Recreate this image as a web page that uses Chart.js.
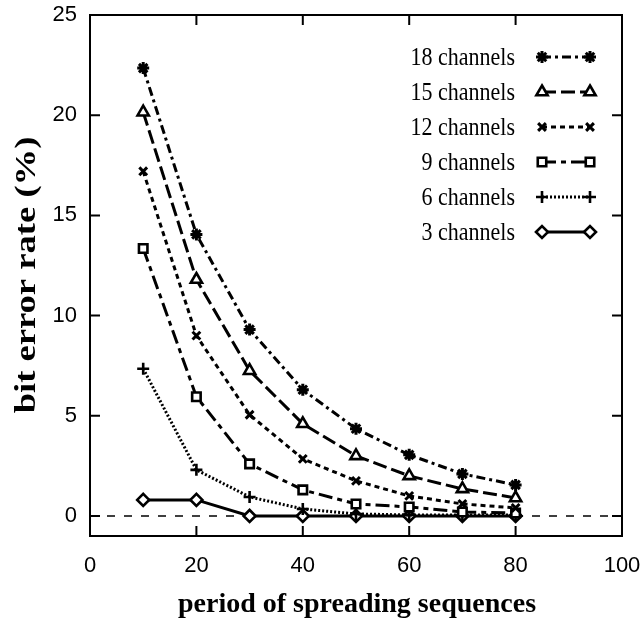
<!DOCTYPE html>
<html>
<head>
<meta charset="utf-8">
<script src="https://cdn.jsdelivr.net/npm/chart.js@4.4.1/dist/chart.umd.min.js"></script>
<style>
html,body{margin:0;padding:0;background:#fff;}
#c{display:block;}
</style>
</head>
<body>
<canvas id="c" width="640" height="619"></canvas>
<script>
// ---- data ----
const periods = [10, 20, 30, 40, 50, 60, 70, 80];
const ch18 = [22.35, 14.05, 9.3, 6.3, 4.35, 3.05, 2.1, 1.55];
const ch15 = [20.15, 11.8, 7.25, 4.6, 3.0, 2.0, 1.35, 0.9];
const ch12 = [17.2, 9.0, 5.05, 2.85, 1.75, 1.0, 0.6, 0.4];
const ch9  = [13.35, 5.95, 2.6, 1.3, 0.6, 0.45, 0.2, 0.15];
const ch6  = [7.35, 2.3, 0.95, 0.35, 0.1, 0.05, 0.05, 0.05];
const ch3  = [0.8, 0.8, 0, 0, 0, 0, 0, 0];
const seriesLabels = ['18 channels', '15 channels', '12 channels', '9 channels', '6 channels', '3 channels'];
const xTicks = [0, 20, 40, 60, 80, 100];
const yTicks = [0, 5, 10, 15, 20, 25];
const xTitle = 'period of spreading sequences';
const yTitle = 'bit error rate (%)';

const styles = [
  {dash: [9, 4, 3, 4], point: 'star', r: 6, bw: 3, fill: '#000'},
  {dash: [14, 5], point: 'triangle', r: 6.5, bw: 2.6, fill: '#fff'},
  {dash: [5, 4], point: 'crossRot', r: 5.5, bw: 3, fill: '#000'},
  {dash: [14, 5, 5, 5], point: 'rect', r: 6, bw: 2.6, fill: '#fff'},
  {dash: [2, 2], point: 'cross', r: 6, bw: 2.6, fill: '#000'},
  {dash: [], point: 'rectRot', r: 6, bw: 2.6, fill: '#fff'}
];
const values = [ch18, ch15, ch12, ch9, ch6, ch3];

const datasets = values.map((v, i) => ({
  label: seriesLabels[i],
  data: periods.map((p, j) => ({x: p, y: v[j]})),
  borderColor: '#000',
  backgroundColor: styles[i].fill,
  borderWidth: 3,
  borderDash: styles[i].dash,
  pointStyle: styles[i].point,
  pointRadius: styles[i].r,
  pointBorderWidth: styles[i].bw,
  pointBorderColor: '#000',
  pointBackgroundColor: styles[i].fill,
  tension: 0,
  fill: false
}));

const framePlugin = {
  id: 'frame',
  beforeDatasetsDraw(chart) {
    const {ctx, chartArea: a, scales: {y}} = chart;
    const y0 = y.getPixelForValue(0);
    ctx.save();
    ctx.strokeStyle = '#000';
    ctx.lineWidth = 1.6;
    ctx.setLineDash([8, 9]);
    ctx.beginPath();
    ctx.moveTo(a.left, y0);
    ctx.lineTo(a.right, y0);
    ctx.stroke();
    ctx.restore();
  },
  afterDatasetsDraw(chart) {
    const {ctx, chartArea: a, scales: {x, y}} = chart;
    ctx.save();
    ctx.strokeStyle = '#000';
    ctx.lineWidth = 2;
    ctx.setLineDash([]);
    ctx.strokeRect(a.left, a.top, a.right - a.left, a.bottom - a.top);
    const tl = 10;
    ctx.beginPath();
    xTicks.forEach(v => {
      const px = x.getPixelForValue(v);
      ctx.moveTo(px, a.bottom); ctx.lineTo(px, a.bottom - tl);
      ctx.moveTo(px, a.top); ctx.lineTo(px, a.top + tl);
    });
    yTicks.forEach(v => {
      const py = y.getPixelForValue(v);
      ctx.moveTo(a.left, py); ctx.lineTo(a.left + tl, py);
      ctx.moveTo(a.right, py); ctx.lineTo(a.right - tl, py);
    });
    ctx.stroke();
    ctx.restore();
  },
  afterDraw(chart) {
    const {ctx, chartArea: a} = chart;
    ctx.save();
    ctx.fillStyle = '#000';
    // x title
    ctx.font = 'bold 28px "Liberation Serif", "DejaVu Serif", serif';
    ctx.textAlign = 'center';
    ctx.textBaseline = 'middle';
    ctx.fillText(xTitle, 357, 605);
    // y title
    ctx.save();
    ctx.translate(27, 275);
    ctx.rotate(-Math.PI / 2);
    ctx.scale(1.22, 1);
    ctx.font = 'bold 30px "Liberation Serif", "DejaVu Serif", serif';
    ctx.fillText(yTitle, 0, 0);
    ctx.restore();
    // legend
    const rows = [57, 92, 127, 162, 197, 232];
    ctx.font = '22px "Liberation Serif", "DejaVu Serif", serif';
    ctx.textAlign = 'right';
    ctx.textBaseline = 'middle';
    seriesLabels.forEach((lab, i) => {
      const ry = rows[i];
      ctx.fillStyle = '#000';
      ctx.save();
      ctx.translate(515, ry + 1);
      ctx.scale(1, 1.15);
      ctx.fillText(lab, 0, 0);
      ctx.restore();
      ctx.save();
      ctx.strokeStyle = '#000';
      ctx.lineWidth = 3;
      ctx.setLineDash(styles[i].dash);
      ctx.beginPath();
      ctx.moveTo(542, ry);
      ctx.lineTo(590, ry);
      ctx.stroke();
      ctx.setLineDash([]);
      ctx.lineWidth = styles[i].bw;
      ctx.fillStyle = styles[i].fill;
      [542, 590].forEach(px => {
        Chart.helpers.drawPoint(ctx, {pointStyle: styles[i].point, radius: styles[i].r, rotation: 0, borderWidth: styles[i].bw}, px, ry);
      });
      ctx.restore();
    });
    ctx.restore();
  }
};

new Chart(document.getElementById('c'), {
  type: 'line',
  data: {datasets},
  options: {
    responsive: false,
    devicePixelRatio: 1,
    animation: false,
    layout: {padding: {top: 15, right: 18, left: 0, bottom: 0}},
    plugins: {legend: {display: false}, tooltip: {enabled: false}},
    scales: {
      x: {
        type: 'linear', min: 0, max: 100,
        grid: {display: false, drawTicks: false},
        border: {display: false},
        afterBuildTicks: s => { s.ticks = xTicks.map(v => ({value: v})); },
        afterFit: s => { s.height = 83; s.paddingLeft = 0; s.paddingRight = 0; },
        ticks: {color: '#000', padding: 17, maxRotation: 0, autoSkip: false,
          font: {family: '"Liberation Sans", Arial, sans-serif', size: 22}}
      },
      y: {
        type: 'linear', min: -1, max: 25,
        grid: {display: false, drawTicks: false},
        border: {display: false},
        afterBuildTicks: s => { s.ticks = yTicks.map(v => ({value: v})); },
        afterFit: s => { s.width = 90; s.paddingTop = 0; s.paddingBottom = 0; },
        ticks: {color: '#000', padding: 13, autoSkip: false,
          font: {family: '"Liberation Sans", Arial, sans-serif', size: 22}}
      }
    }
  },
  plugins: [framePlugin]
});
</script>
</body>
</html>
